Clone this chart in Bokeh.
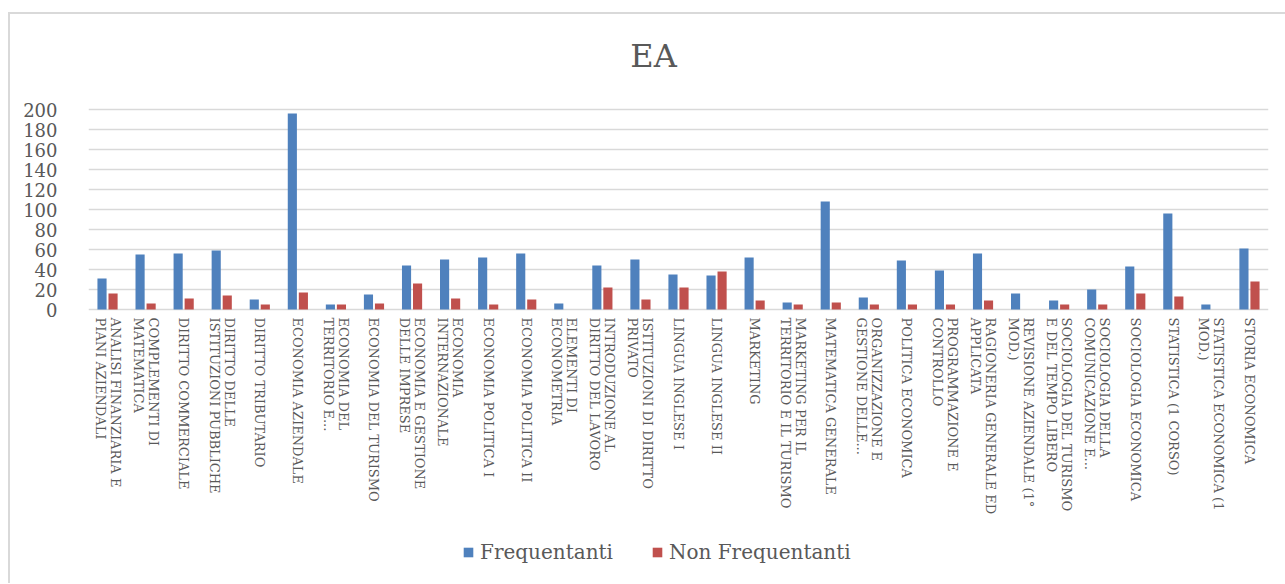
import math
from bokeh.plotting import figure
from bokeh.models import (ColumnDataSource, FactorRange, FixedTicker, Legend,
                          LegendItem, Label)
from bokeh.core.properties import value
from bokeh.transform import dodge
from bokeh.embed import file_html
from bokeh.resources import INLINE

categories = [
    "ANALISI FINANZIARIA E\nPIANI AZIENDALI",
    "COMPLEMENTI DI\nMATEMATICA",
    "DIRITTO COMMERCIALE",
    "DIRITTO DELLE\nISTITUZIONI PUBBLICHE",
    "DIRITTO TRIBUTARIO",
    "ECONOMIA AZIENDALE",
    "ECONOMIA DEL\nTERRITORIO E...",
    "ECONOMIA DEL TURISMO",
    "ECONOMIA E GESTIONE\nDELLE IMPRESE",
    "ECONOMIA\nINTERNAZIONALE",
    "ECONOMIA POLITICA I",
    "ECONOMIA POLITICA II",
    "ELEMENTI DI\nECONOMETRIA",
    "INTRODUZIONE AL\nDIRITTO DEL LAVORO",
    "ISTITUZIONI DI DIRITTO\nPRIVATO",
    "LINGUA INGLESE I",
    "LINGUA INGLESE II",
    "MARKETING",
    "MARKETING PER IL\nTERRITORIO E IL TURISMO",
    "MATEMATICA GENERALE",
    "ORGANIZZAZIONE E\nGESTIONE DELLE...",
    "POLITICA ECONOMICA",
    "PROGRAMMAZIONE E\nCONTROLLO",
    "RAGIONERIA GENERALE ED\nAPPLICATA",
    "REVISIONE AZIENDALE (1°\nMOD.)",
    "SOCIOLOGIA DEL TURISMO\nE DEL TEMPO LIBERO",
    "SOCIOLOGIA DELLA\nCOMUNICAZIONE E...",
    "SOCIOLOGIA ECONOMICA",
    "STATISTICA (1 CORSO)",
    "STATISTICA ECONOMICA (1\nMOD.)",
    "STORIA ECONOMICA",
]

frequentanti = [31, 55, 56, 59, 10, 196, 5, 15, 44, 50, 52, 56, 6, 44, 50, 35,
                34, 52, 7, 108, 12, 49, 39, 56, 16, 9, 20, 43, 96, 5, 61]
non_frequentanti = [16, 6, 11, 14, 5, 17, 5, 6, 26, 11, 5, 10, 0, 22, 10, 22,
                    38, 9, 5, 7, 5, 5, 5, 9, 0, 5, 5, 16, 13, 0, 28]

y_ticks = [0, 20, 40, 60, 80, 100, 120, 140, 160, 180, 200]

series_names = ["Frequentanti", "Non Frequentanti"]
title_text = "EA"

BLUE = "#4F81BD"
RED = "#C0504D"
TEXT = "#595959"
GRID = "#d9d9d9"
FONT = "DejaVu Serif"

source = ColumnDataSource(dict(cat=categories, f=frequentanti, nf=non_frequentanti))

# The frame covers the whole canvas height (1 px per unit), so the category
# labels, the title and the legend can be drawn inside it without clipping.
p = figure(
    x_range=FactorRange(factors=categories, range_padding=0),
    y_range=(-274, 309),
    frame_width=1180, frame_height=583,
    output_backend="svg", toolbar_location=None,
    min_border_left=88, min_border_right=17, min_border_top=0,
    min_border_bottom=0,
)
p.border_fill_color = None
p.background_fill_color = None
p.styles = {
    "background-color": "white",
    "background-image": "linear-gradient(#d9d9d9, #d9d9d9), linear-gradient(#d9d9d9, #d9d9d9)",
    "background-size": "100% 2px, 2px 100%",
    "background-position": "8px 12px, 8px 12px",
    "background-repeat": "no-repeat",
}

r1 = p.vbar(x=dodge("cat", -0.145, range=p.x_range), top="f", width=0.24,
            source=source, fill_color=BLUE, line_color=None)
r2 = p.vbar(x=dodge("cat", 0.145, range=p.x_range), top="nf", width=0.24,
            source=source, fill_color=RED, line_color=None)

# category labels, rotated to read top to bottom, under the baseline
p.text(x="cat", y=0, text="cat", source=source, angle=-math.pi / 2,
       text_align="left", text_baseline="middle", y_offset=8,
       text_font=value(FONT), text_font_size="13px", text_color=TEXT,
       text_line_height=1.0)

p.outline_line_color = None
p.xgrid.grid_line_color = None
p.ygrid.grid_line_color = GRID
p.ygrid.grid_line_width = 1.3

p.xaxis.visible = False

p.yaxis.ticker = FixedTicker(ticks=y_ticks)
p.yaxis.axis_line_color = None
p.yaxis.major_tick_line_color = None
p.yaxis.minor_tick_line_color = None
p.yaxis.major_label_standoff = 25
p.yaxis.major_label_text_font = FONT
p.yaxis.major_label_text_font_size = "18px"
p.yaxis.major_label_text_color = TEXT

title = Label(x=565, y=528, x_units="screen", y_units="screen",
              text=title_text, text_align="center", text_baseline="alphabetic",
              text_font=FONT, text_font_size="32px", text_color=TEXT)
p.add_layout(title)

legend = Legend(
    items=[LegendItem(label=series_names[0], renderers=[r1]),
           LegendItem(label=series_names[1], renderers=[r2])],
    orientation="horizontal", location=(374, 19),
    label_text_font=FONT, label_text_font_size="20px", label_text_color=TEXT,
    glyph_width=12, glyph_height=12, spacing=38, label_standoff=6,
    border_line_color=None, background_fill_alpha=0, margin=0, padding=0,
)
p.add_layout(legend, "center")

open("out.html", "w").write(file_html(p, INLINE))
